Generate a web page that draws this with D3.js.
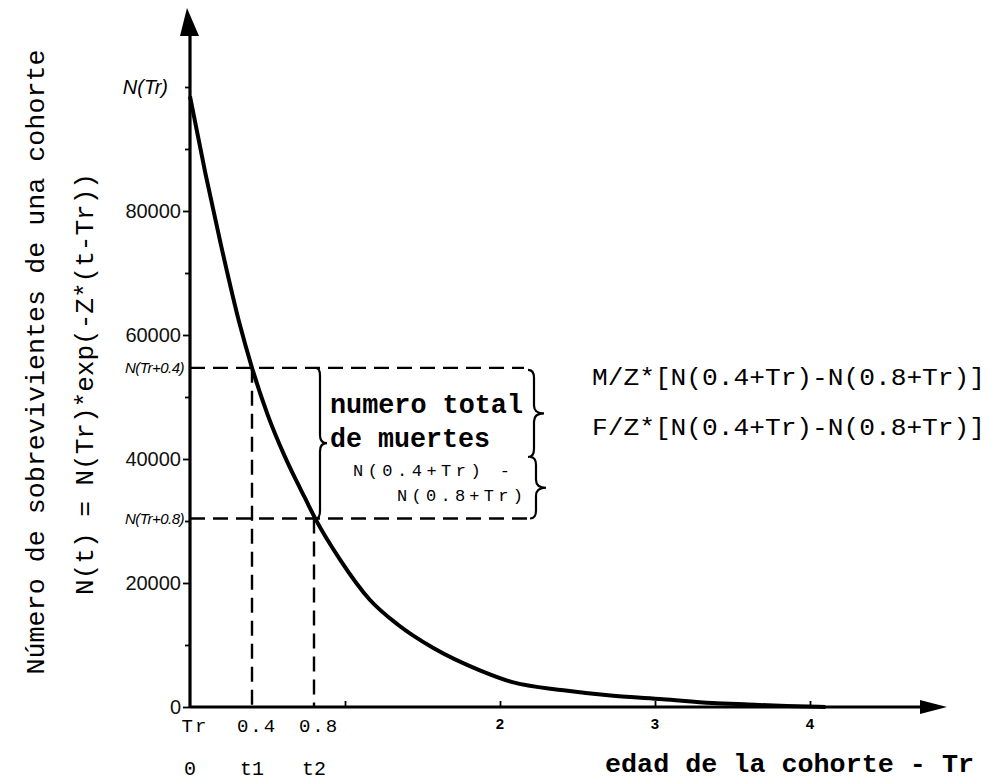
<!DOCTYPE html>
<html>
<head>
<meta charset="utf-8">
<script src="https://cdn.jsdelivr.net/npm/d3@7"></script>
<style>
  body { margin: 0; background: #fff; }
  svg { display: block; }
</style>
</head>
<body>
<svg id="chart"></svg>
<script>
// Survivors of a cohort
const ageT = [0, 0.1, 0.2, 0.32, 0.4, 0.5, 0.61, 0.67, 0.74, 0.81, 0.97, 1.16, 1.34, 1.57, 1.87, 2.08, 2.41, 2.73, 3.05, 3.37, 3.6, 3.85, 4.1];
const survivors = [98500, 86000, 74500, 61800, 54700, 47200, 40500, 37300, 33800, 30300, 23700, 17300, 13300, 9500, 5900, 4000, 2700, 1800, 1250, 650, 400, 150, 0];

const yTickValues = [0, 20000, 40000, 60000, 80000];
const yMinorTicks = [10000, 30000, 50000, 70000, 90000, 100000];
const nLevelValues = [100000, 54700, 30400];
const nLevelLabels = ["N(Tr)", "N(Tr+0.4)", "N(Tr+0.8)"];

const xTickValues = [1, 2, 3, 4];
const xRow1Values = [0, 0.4, 0.8];
const xRow1Labels = ["Tr", "0.4", "0.8"];
const xRow2Labels = ["0", "t1", "t2"];
const xNumValues = [2, 3, 4];
const xNumLabels = ["2", "3", "4"];

const markT = [0.4, 0.8];

const width = 989, height = 783;
const mono = "'Liberation Mono', 'DejaVu Sans Mono', monospace";
const sans = "'Liberation Sans', Arial, sans-serif";

const svg = d3.select("#chart")
    .attr("width", width)
    .attr("height", height);

const x = d3.scaleLinear().domain([0, 4]).range([190, 810]);
const y = d3.scaleLinear().domain([0, 100000]).range([707, 87]);

// Dashed guide lines
const dash = svg.append("g")
    .attr("fill", "none")
    .attr("stroke", "#000")
    .attr("stroke-width", 2.4)
    .attr("stroke-dasharray", "15,8");

dash.append("line")
    .attr("x1", x(0)).attr("x2", 524)
    .attr("y1", y(nLevelValues[1])).attr("y2", y(nLevelValues[1]));
dash.append("line")
    .attr("x1", x(0)).attr("x2", 530)
    .attr("y1", y(nLevelValues[2])).attr("y2", y(nLevelValues[2]));
markT.forEach(function (t, i) {
    dash.append("line")
        .attr("x1", x(t)).attr("x2", x(t))
        .attr("y1", y(nLevelValues[i + 1])).attr("y2", y(0));
});

// Braces
function brace(xv, y0, y1, w) {
    const ym = (y0 + y1) / 2;
    const p = d3.path();
    p.moveTo(xv - w * 0.6, y0);
    p.quadraticCurveTo(xv, y0, xv, y0 + 8);
    p.lineTo(xv, ym - 8);
    p.quadraticCurveTo(xv, ym, xv + w, ym);
    p.quadraticCurveTo(xv, ym, xv, ym + 8);
    p.lineTo(xv, y1 - 8);
    p.quadraticCurveTo(xv, y1, xv - w * 0.6, y1);
    return p.toString();
}

const braces = svg.append("g")
    .attr("fill", "none")
    .attr("stroke", "#000")
    .attr("stroke-width", 2.2);

braces.append("path")
    .attr("d", brace(320, y(nLevelValues[1]), y(nLevelValues[2]), 7));
braces.append("path")
    .attr("d", brace(534, y(nLevelValues[1]) + 2, 457, 10));
braces.append("path")
    .attr("d", brace(536, 457, y(nLevelValues[2]), 10));

// Survivor curve
const line = d3.line()
    .curve(d3.curveMonotoneX)
    .x(function (d, i) { return x(ageT[i]); })
    .y(function (d) { return y(d); });

svg.append("path")
    .datum(survivors)
    .attr("d", line)
    .attr("fill", "none")
    .attr("stroke", "#000")
    .attr("stroke-width", 4)
    .attr("stroke-linejoin", "round");

// Axes lines with arrows
svg.append("line")
    .attr("x1", x(0)).attr("x2", x(0))
    .attr("y1", y(0) + 1).attr("y2", 30)
    .attr("stroke", "#000").attr("stroke-width", 3.2);
svg.append("path")
    .attr("d", d3.line()([[x(0) - 10, 36], [x(0) - 3, 8], [x(0) + 9, 36]]))
    .attr("fill", "#000");

svg.append("line")
    .attr("x1", x(0)).attr("x2", 925)
    .attr("y1", y(0)).attr("y2", y(0))
    .attr("stroke", "#000").attr("stroke-width", 3.2);
svg.append("path")
    .attr("d", d3.line()([[920, y(0) - 7], [947, y(0)], [920, y(0) + 7]]))
    .attr("fill", "#000");

// Y axis ticks and labels
const yAxis = svg.append("g")
    .attr("transform", "translate(" + x(0) + ",0)")
    .call(d3.axisLeft(y).tickValues(yTickValues).tickSize(7).tickPadding(2)
        .tickFormat(function (d) { return d; }));
yAxis.select(".domain").remove();
yAxis.selectAll("line").attr("stroke-width", 1.8);
yAxis.selectAll("text")
    .attr("font-family", sans)
    .attr("font-size", 20)
    .attr("fill", "#111");

const yMinor = svg.append("g")
    .attr("transform", "translate(" + x(0) + ",0)")
    .call(d3.axisLeft(y).tickValues(yMinorTicks).tickSize(5).tickFormat(""));
yMinor.select(".domain").remove();
yMinor.selectAll("line").attr("stroke-width", 1.8);

// Levels N(Tr), N(Tr+0.4), N(Tr+0.8)
svg.append("g").selectAll("text")
    .data(nLevelValues)
    .join("text")
    .attr("x", function (d, i) { return i === 0 ? x(0) - 22 : x(0) - 6; })
    .attr("y", function (d) { return y(d); })
    .attr("dy", "0.35em")
    .attr("text-anchor", "end")
    .attr("font-family", sans)
    .attr("font-style", "italic")
    .attr("font-size", function (d, i) { return i === 0 ? 20 : 15; })
    .attr("letter-spacing", function (d, i) { return i === 0 ? 0 : -0.5; })
    .text(function (d, i) { return nLevelLabels[i]; });

// X axis ticks
const xAxis = svg.append("g")
    .attr("transform", "translate(0," + y(0) + ")")
    .call(d3.axisBottom(x).tickValues(xTickValues).tickSize(-6).tickFormat(""));
xAxis.select(".domain").remove();
xAxis.selectAll("line").attr("stroke-width", 1.8);

const xLabels = svg.append("g")
    .attr("font-family", mono)
    .attr("fill", "#000");

xLabels.selectAll(".row1")
    .data(xRow1Values)
    .join("text")
    .attr("class", "row1")
    .attr("x", function (d) { return x(d) + 5; })
    .attr("y", 732)
    .attr("text-anchor", "middle")
    .attr("font-size", 19)
    .attr("letter-spacing", 2)
    .text(function (d, i) { return xRow1Labels[i]; });

xLabels.selectAll(".row2")
    .data(xRow1Values)
    .join("text")
    .attr("class", "row2")
    .attr("x", function (d) { return x(d); })
    .attr("y", 775)
    .attr("text-anchor", "middle")
    .attr("font-size", 20)
    .text(function (d, i) { return xRow2Labels[i]; });

xLabels.selectAll(".num")
    .data(xNumValues)
    .join("text")
    .attr("class", "num")
    .attr("x", function (d) { return x(d); })
    .attr("y", 729)
    .attr("text-anchor", "middle")
    .attr("font-family", sans)
    .attr("font-weight", "bold")
    .attr("font-size", 15)
    .text(function (d, i) { return xNumLabels[i]; });

// Axis titles
svg.append("text")
    .attr("transform", "translate(44,362) rotate(-90)")
    .attr("text-anchor", "middle")
    .attr("font-family", mono)
    .attr("font-size", 26)
    .attr("textLength", 625)
    .attr("lengthAdjust", "spacingAndGlyphs")
    .text("Número de sobrevivientes de una cohorte");

svg.append("text")
    .attr("transform", "translate(93,384) rotate(-90)")
    .attr("text-anchor", "middle")
    .attr("font-family", mono)
    .attr("font-size", 25)
    .attr("textLength", 422)
    .attr("lengthAdjust", "spacingAndGlyphs")
    .text("N(t) = N(Tr)*exp(-Z*(t-Tr))");

svg.append("text")
    .attr("x", 605)
    .attr("y", 772)
    .attr("font-family", mono)
    .attr("font-weight", "bold")
    .attr("font-size", 26)
    .attr("textLength", 369)
    .attr("lengthAdjust", "spacingAndGlyphs")
    .text("edad de la cohorte - Tr");

// Annotations
const notes = svg.append("g")
    .attr("font-family", mono)
    .attr("fill", "#000");

notes.append("text")
    .attr("x", 330).attr("y", 413)
    .attr("font-size", 27).attr("font-weight", "bold")
    .attr("textLength", 193).attr("lengthAdjust", "spacingAndGlyphs")
    .text("numero total");
notes.append("text")
    .attr("x", 330).attr("y", 447)
    .attr("font-size", 27).attr("font-weight", "bold")
    .attr("textLength", 160).attr("lengthAdjust", "spacingAndGlyphs")
    .text("de muertes");
notes.append("text")
    .attr("x", 353).attr("y", 476)
    .attr("font-size", 17)
    .attr("textLength", 157).attr("lengthAdjust", "spacing")
    .text("N(0.4+Tr) -");
notes.append("text")
    .attr("x", 397).attr("y", 501)
    .attr("font-size", 17)
    .attr("textLength", 126).attr("lengthAdjust", "spacing")
    .text("N(0.8+Tr)");

notes.append("text")
    .attr("x", 592).attr("y", 385)
    .attr("font-size", 24)
    .attr("textLength", 393).attr("lengthAdjust", "spacingAndGlyphs")
    .text("M/Z*[N(0.4+Tr)-N(0.8+Tr)]");
notes.append("text")
    .attr("x", 592).attr("y", 435)
    .attr("font-size", 24)
    .attr("textLength", 393).attr("lengthAdjust", "spacingAndGlyphs")
    .text("F/Z*[N(0.4+Tr)-N(0.8+Tr)]");
</script>
</body>
</html>
